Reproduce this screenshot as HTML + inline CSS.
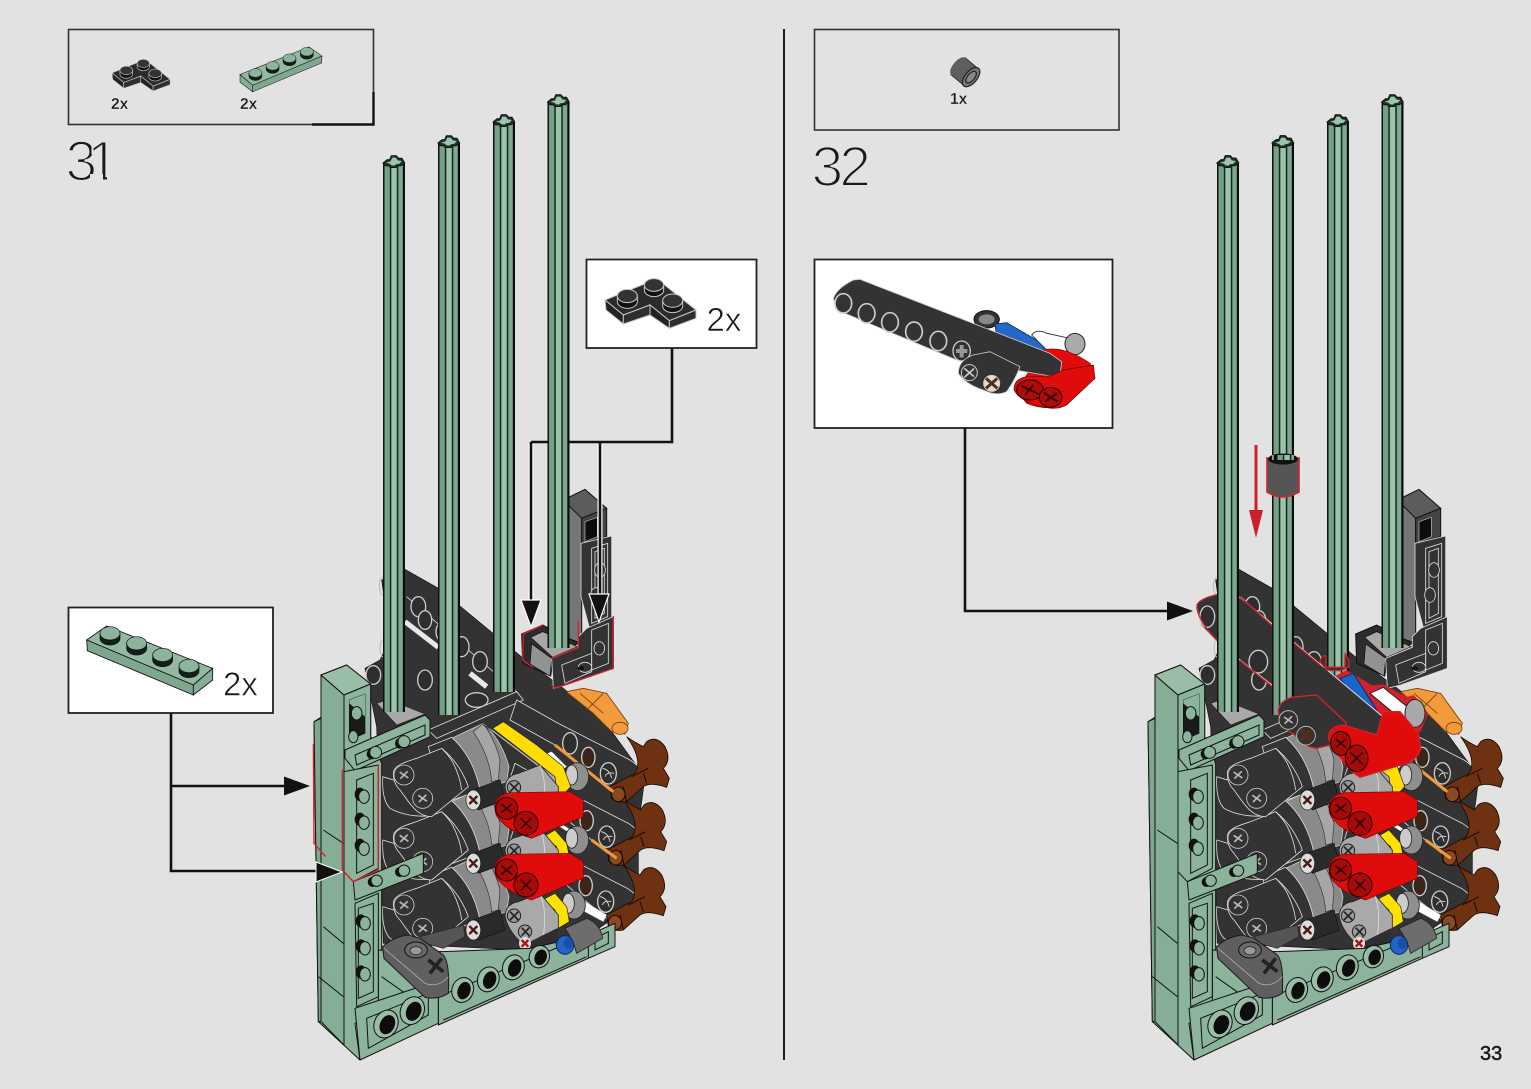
<!DOCTYPE html>
<html><head><meta charset="utf-8"><title>Steps 31-32</title>
<style>
html,body{margin:0;padding:0;background:#e2e2e2;width:1531px;height:1089px;overflow:hidden}
svg{display:block}
text{font-family:"Liberation Sans",sans-serif;fill:#1a1a1a}
.g{fill:#8cb39c;stroke:#111;stroke-width:3;stroke-linejoin:round}
.gl{fill:#9abda8;stroke:#111;stroke-width:3;stroke-linejoin:round}
.gd{fill:#7fa78f;stroke:#111;stroke-width:3;stroke-linejoin:round}
.in{fill:none;stroke:#111;stroke-width:3}
.d{fill:#333;stroke:#ddd;stroke-width:2.5;stroke-linejoin:round}
.dk{fill:#333;stroke:#111;stroke-width:2;stroke-linejoin:round}
.w{fill:none;stroke:#ddd;stroke-width:2.5}
.h{fill:#2e2e2e;stroke:#ccc;stroke-width:4}
.gh{fill:#2a3a33;stroke:#111;stroke-width:3}
.r{fill:#e00c0c;stroke:#7a0505;stroke-width:2;stroke-linejoin:round}
.rh{fill:#a80a0a;stroke:#200;stroke-width:3}
.o{fill:none;stroke:#d4202c;stroke-width:4;stroke-linejoin:round;stroke-linecap:round}
.ln{fill:none;stroke:#111;stroke-width:2.6}
.hl{fill:none;stroke:#fff;stroke-width:5}
</style></head>
<body>
<svg width="1531" height="1089" viewBox="0 0 1531 1089" xmlns="http://www.w3.org/2000/svg">
<defs>
<pattern id="st" patternUnits="userSpaceOnUse" width="22" height="40">
<rect width="22" height="40" fill="#8cb39c"/>
<rect width="1.6" height="40" fill="#111"/>
<rect x="1.6" width="5.2" height="40" fill="#74a085"/>
<rect x="6.8" width="1.6" height="40" fill="#0f2a1c"/>
<rect x="8.4" width="5.4" height="40" fill="#9cc2ab"/>
<rect x="13.8" width="1.6" height="40" fill="#0f2a1c"/>
<rect x="15.4" width="4.4" height="40" fill="#7fa890"/>
<rect x="19.8" width="2.2" height="40" fill="#0a0a0a"/>
</pattern>
<g id="cap">
<path d="M0,8 L4,4.7 L6.7,4.7 L8.3,.7 L13.3,.7 L15.7,3.3 L19,3.3 L21.7,8 L18,10.7 L15.3,10.7 L12.7,12.5 L7.3,12.5 L5.7,10.7 L2.3,10.7 Z" fill="#1d3228" stroke="#111" stroke-width="1"/>
<path d="M3,7.6 L7.5,6.4 L9.2,2.6 L12.8,2.6 L14.8,5.4 L18.8,6 L16.4,8.8 L13,9.2 L11.5,10.6 L8.4,10.2 L7,8.8 Z" fill="#9dc4ad"/>
</g>
<g id="r1"><rect y="8" width="22" height="549" fill="url(#st)"/><use href="#cap"/></g>
<g id="r2"><rect y="8" width="22" height="572" fill="url(#st)"/><use href="#cap"/></g>
<g id="r3"><rect y="8" width="22" height="570" fill="url(#st)"/><use href="#cap"/></g>
<g id="r4"><rect y="8" width="22" height="546" fill="url(#st)"/><use href="#cap"/></g>

<g id="xh"><path d="M-13,-9 L13,9 M-11,11 L11,-11" stroke="#bbb" stroke-width="5" fill="none"/></g>

<!-- back layer -->
<g id="mb">
 <polygon points="760,-180 815,-130 815,250 760,230" fill="#767676" stroke="#111" stroke-width="3"/>
 <polygon points="760,-180 825,-212 890,-155 815,-125" fill="#5c5c5c" stroke="#111" stroke-width="3"/>
 <polygon points="815,-125 890,-155 890,-70 815,-50" fill="#444" stroke="#111" stroke-width="3"/>
 <polygon points="825,-115 862,-128 862,-70 825,-55" fill="#0d0d0d" stroke="#bbb" stroke-width="2"/>
 <polygon points="813,-50 905,-72 905,200 840,210 813,110" class="d"/>
 <polygon points="845,-35 893,-50 893,170 845,190" class="w"/>
 <polygon points="855,-25 883,-35 883,160 855,175" class="w"/>
 <ellipse cx="870" cy="30" rx="16" ry="22" fill="#333" stroke="#ddd" stroke-width="2.5"/>
 <ellipse cx="858" cy="105" rx="16" ry="22" fill="#333" stroke="#ddd" stroke-width="2.5"/>
 <!-- dark mass -->
 <path d="M215,60 L285,28 L385,85 L640,295 L760,385 L880,480 L960,590 L1005,650 L985,800 L985,1000 L910,1075 L800,1150 L640,1170 L220,1150 L200,500 L165,325 L210,300 L240,240 Z" fill="#333" stroke="#111" stroke-width="2"/>
 <path d="M285,185 L385,262" stroke="#e8e8e8" stroke-width="15" fill="none"/>
 <path d="M480,340 L530,380" stroke="#e8e8e8" stroke-width="16" fill="none"/>
 <path d="M290,110 L625,400" class="w"/>
 <ellipse cx="218" cy="78" rx="10" ry="26" fill="none" stroke="#bbb" stroke-width="3"/>
 <ellipse cx="220" cy="265" rx="10" ry="26" fill="none" stroke="#bbb" stroke-width="3"/>
 <ellipse cx="190" cy="345" rx="22" ry="28" class="h"/>
 <ellipse cx="325" cy="140" rx="22" ry="30" class="h"/>
 <ellipse cx="345" cy="180" rx="20" ry="28" class="h"/>
 <ellipse cx="400" cy="215" rx="22" ry="30" class="h"/>
 <ellipse cx="455" cy="260" rx="22" ry="30" class="h"/>
 <ellipse cx="510" cy="305" rx="22" ry="30" class="h"/>
 <ellipse cx="345" cy="360" rx="22" ry="30" class="h"/>
 <!-- cross beam -->
 <path d="M355,510 L620,395 L640,420 L380,535 Z" fill="#333" stroke="#ddd" stroke-width="2.5"/>
 <ellipse cx="500" cy="420" rx="34" ry="22" class="h"/>
 <polygon points="200,430 235,418 345,462 260,495" fill="#a8a8a8" stroke="#222" stroke-width="2"/>
 <!-- brick -->
 <polygon points="635,222 698,195 805,250 730,290 722,348 638,310" fill="#2c2c2c" stroke="#111" stroke-width="3"/>
 <polygon points="665,252 725,295 720,348 660,312" fill="#929292" stroke="#111" stroke-width="2"/>
 <polygon points="662,232 698,215 802,260 728,292" fill="#a8a8a8" stroke="#111" stroke-width="2"/>
</g>

<!-- front layer -->
<g id="beam">
 <path d="M620,420 L745,490 L960,600 Q1005,630 1005,655 L985,690 L910,700 L735,555 L600,480 Z" class="d"/>
 <ellipse cx="780" cy="550" rx="22" ry="32" class="h"/>
 <ellipse cx="835" cy="592" rx="20" ry="30" fill="#3b2418" stroke="#ccc" stroke-width="4"/>
 <ellipse cx="895" cy="640" rx="24" ry="32" class="h"/>
 <path d="M878,625 Q900,630 905,655 M885,650 Q890,635 912,640" stroke="#ccc" stroke-width="3" fill="none"/>
</g>
<path id="brown" d="M950,530 Q970,545 1000,560 L1010,545 Q1040,525 1065,560 Q1085,600 1060,625 L1078,655 L1070,682 Q1020,665 1000,680 L950,725 Q920,730 905,715 L900,680 L975,640 Q1000,600 950,530Z" fill="#6e3213" stroke="#1a0a00" stroke-width="2.5"/>
<g id="brown2"><use href="#brown"/><path d="M940,680 L950,725 M1010,670 L1000,640 M965,650 L1015,625" stroke="#1a0a00" stroke-width="3" fill="none"/><ellipse cx="925" cy="703" rx="20" ry="22" fill="#8a4a20" stroke="#1a0a00" stroke-width="3"/></g>

<g id="row">
 <path d="M218,650 Q215,720 240,745 Q290,772 360,768 L350,690 Z" class="d"/>
 <path d="M425,535 L520,490 Q575,540 597,620 L590,665 L480,700 Z" fill="#8a8a8a" stroke="#ddd" stroke-width="2"/>
 <path d="M355,560 L425,532 Q490,590 510,690 L400,730 Z" fill="#333" stroke="#ddd" stroke-width="2.5"/>
 <path d="M520,490 Q555,540 570,600 L565,660 L545,665 Q540,590 490,515 Z" fill="#a6a6a6" stroke="#333" stroke-width="2"/>
 <path d="M250,640 C250,615 290,605 320,595 L395,565 Q450,610 475,680 L365,770 C320,770 300,730 270,690 C255,675 250,655 250,640 Z" class="d"/>
 <path d="M395,565 Q420,590 430,610 Q450,650 455,690" class="w"/>
 <circle cx="282" cy="645" r="30" fill="#333" stroke="#ccc" stroke-width="2.5"/><use href="#xh" transform="translate(282,645)"/>
 <circle cx="338" cy="715" r="30" fill="#333" stroke="#ccc" stroke-width="2.5"/><use href="#xh" transform="translate(338,715)"/>
 <path d="M475,695 L570,660 L585,720 L505,750 Z" fill="#2a2a2a" stroke="#111" stroke-width="2"/>
 <ellipse cx="490" cy="720" rx="22" ry="30" fill="#ddd" stroke="#222" stroke-width="2"/>
 <path d="M478,708 L502,732 M478,732 L502,708" stroke="#4a1a14" stroke-width="7" fill="none"/>
</g>
<g id="grey">
 <ellipse cx="802" cy="650" rx="34" ry="42" fill="#8f8f8f" stroke="#222" stroke-width="2.5"/>
 <ellipse cx="785" cy="645" rx="18" ry="30" fill="#ccc" stroke="#222" stroke-width="2.5"/>
</g>
<g id="arm">
 <path d="M585,680 Q590,645 625,640 L690,615 L745,680 L745,720 L680,765 Q650,780 630,760 Q590,720 585,680Z" fill="#a9a9a9" stroke="#222" stroke-width="2.5"/>
 <path d="M690,615 Q712,670 700,740" stroke="#ddd" stroke-width="2.5" fill="none"/>
 <circle cx="612" cy="682" r="20" fill="#9a9a9a" stroke="#222" stroke-width="3"/>
 <circle cx="645" cy="730" r="20" fill="#9a9a9a" stroke="#222" stroke-width="3"/>
 <path d="M600,670 L625,695 M635,718 L658,742 M600,695 L625,670 M635,742 L658,718" stroke="#222" stroke-width="5" fill="none"/>
</g>
<g id="red">
 <path d="M555,745 Q555,705 600,698 L780,695 L820,720 L820,770 L665,835 Q600,815 575,785 Q555,770 555,745Z" class="r"/>
 <circle cx="590" cy="745" r="33" class="rh"/>
 <circle cx="648" cy="790" r="36" class="rh"/>
 <path d="M574,732 L606,758 M574,758 L606,732 M632,774 L664,806 M632,806 L664,774" stroke="#300" stroke-width="5" fill="none"/>
</g>

<g id="mf">
 <use href="#beam" transform="translate(-8,385)"/>
 <use href="#brown2" transform="translate(-10,385)"/>
 <polygon points="800,1010 890,1065 880,1085 815,1050" fill="#fff" stroke="#ccc" stroke-width="1"/>
 <use href="#beam" transform="translate(-5,190)"/>
 <use href="#brown2" transform="translate(-8,190)"/>
 <path d="M845,840 L920,895" stroke="#f09a3c" stroke-width="9" fill="none"/>
 <path d="M750,795 L790,820" stroke="#fff" stroke-width="10" fill="none"/>
 <polygon points="770,395 820,385 890,400 955,490 945,522 905,515 850,460 775,400" fill="#f29a3c" stroke="#7a3e08" stroke-width="2.5"/>
 <path d="M810,400 L880,460 M880,400 L835,445" stroke="#7a3e08" stroke-width="2.5" fill="none"/>
 <ellipse cx="930" cy="505" rx="24" ry="18" fill="#f29a3c" stroke="#7a3e08" stroke-width="2.5"/>
 <use href="#beam"/>
 <use href="#brown2"/>
 <path d="M735,555 L910,695" stroke="#f09a3c" stroke-width="9" fill="none"/>
 <polygon points="700,585 725,575 770,620 755,630" fill="#fff"/>

 <use href="#row" transform="translate(0,390)"/>
 <use href="#grey" transform="translate(-10,385)"/>
 <polygon points="697,1020 735,1000 770,1040 778,1085 745,1105 735,1050" fill="#ffe100" stroke="#222" stroke-width="2"/>
 <use href="#arm" transform="translate(0,385)"/>
 <use href="#row" transform="translate(0,190)"/>
 <use href="#grey" transform="translate(0,190)"/>
 <polygon points="700,830 735,810 770,850 778,890 745,915 740,860" fill="#ffe100" stroke="#222" stroke-width="2"/>
 <use href="#arm" transform="translate(0,190)"/>
 <use href="#red" transform="translate(0,185)"/>
 <use href="#row"/>
 <use href="#grey"/>
 <polygon points="520,495 550,510 735,650 745,705 690,625" fill="#aaa" stroke="#222" stroke-width="2"/>
 <polygon points="548,505 580,485 680,555 760,620 782,680 745,720 735,650" fill="#ffdd00" stroke="#222" stroke-width="2"/>
 <use href="#arm"/>
 <use href="#red"/>

 <!-- lower items -->
 <path d="M640,1155 L740,1105 L745,1150 L665,1172 Z" fill="#2e2e2e"/>
 <ellipse cx="645" cy="1150" rx="18" ry="20" fill="#ddd"/>
 <path d="M635,1140 L655,1160 M635,1160 L655,1140" stroke="#b01010" stroke-width="7"/>
 <path d="M330,1130 L460,1095 L465,1130 L400,1165 L345,1150 Z" fill="#555" stroke="#222" stroke-width="2"/>

 <!-- green -->
 <path d="M12,485 L33,472 L33,345 L110,315 L182,372 L182,530 L215,610 L215,1345 L135,1390 L150,1500 L25,1385 Z" class="g"/>
 <polygon points="205,1170 400,1175 660,1165 835,1125 385,1330 205,1345" class="g"/>
 <polygon points="12,485 33,475 33,1385 25,1385" class="gd"/>
 <polygon points="33,345 102,405 102,1455 33,1385" fill="#86ad96" stroke="#111" stroke-width="3"/>
 <polygon points="33,345 110,315 182,372 102,405" class="gl"/>
 <polygon points="102,405 182,372 182,560 102,590" class="g"/>
 <polygon points="118,420 165,402 165,520 118,540" fill="#1a1a1a" stroke="#111" stroke-width="2"/>
 <polygon points="118,420 165,402 165,470 118,430" fill="#8cb39c"/>
 <ellipse cx="140" cy="460" rx="16" ry="20" fill="#8cb39c" stroke="#111" stroke-width="3"/>
 <ellipse cx="130" cy="530" rx="14" ry="18" fill="#8cb39c" stroke="#111" stroke-width="3"/>
 <path d="M40,810 L100,850 M40,1100 L100,1150 M25,1250 L100,1310" class="in"/>
 <!-- upper horizontal plate -->
 <polygon points="105,570 345,465 360,480 360,530 135,632 105,595" class="g"/>
 <polygon points="135,585 345,495 345,525 140,615" class="in"/>
 <ellipse cx="185" cy="582" rx="15" ry="16" fill="#111"/><ellipse cx="197" cy="577" rx="18" ry="18" class="g"/>
 <ellipse cx="270" cy="550" rx="15" ry="16" fill="#111"/><ellipse cx="282" cy="545" rx="18" ry="18" class="g"/>
 <!-- vertical plate -->
 <polygon points="102,635 205,615 205,925 130,965 102,935" class="g"/>
 <polygon points="140,660 190,640 190,915 140,940" class="in"/>
 <g fill="#111"><ellipse cx="150" cy="703" rx="16" ry="20"/><ellipse cx="150" cy="778" rx="16" ry="20"/><ellipse cx="150" cy="856" rx="16" ry="20"/></g>
 <ellipse cx="162" cy="710" rx="16" ry="20" class="g"/><ellipse cx="162" cy="788" rx="16" ry="20" class="g"/><ellipse cx="162" cy="866" rx="16" ry="20" class="g"/>
 <!-- lower horizontal plate -->
 <polygon points="130,965 340,880 340,940 135,1020" class="g"/>
 <ellipse cx="188" cy="966" rx="15" ry="15" fill="#111"/><ellipse cx="200" cy="962" rx="17" ry="17" class="g"/>
 <ellipse cx="270" cy="936" rx="15" ry="15" fill="#111"/><ellipse cx="282" cy="932" rx="17" ry="17" class="g"/>
 <!-- lower vertical -->
 <polygon points="135,1030 205,1000 205,1310 140,1340" class="g"/>
 <polygon points="145,1045 190,1030 190,1295 145,1315" class="in"/>
 <g fill="#111"><ellipse cx="153" cy="1083" rx="16" ry="20"/><ellipse cx="153" cy="1158" rx="16" ry="20"/><ellipse cx="153" cy="1236" rx="16" ry="20"/></g>
 <ellipse cx="165" cy="1090" rx="16" ry="20" class="g"/><ellipse cx="165" cy="1165" rx="16" ry="20" class="g"/><ellipse cx="165" cy="1243" rx="16" ry="20" class="g"/>
 <!-- base right -->
 <polygon points="385,1310 835,1125 915,1090 915,1160 835,1195 385,1395" class="g"/>
 <polyline points="400,1380 830,1190" class="in"/>
 <polyline points="835,1125 835,1195" class="in"/>
 <polygon points="855,1135 895,1115 895,1150 855,1170" class="in"/>
 <polyline points="215,1250 300,1310" class="in"/>
 <g>
  <ellipse cx="458" cy="1290" rx="32" ry="38" class="gl" transform="rotate(20 458 1290)"/><ellipse cx="462" cy="1292" rx="19" ry="27" fill="#0d0d0d" transform="rotate(20 462 1292)"/>
  <ellipse cx="535" cy="1258" rx="32" ry="38" class="gl" transform="rotate(20 535 1258)"/><ellipse cx="539" cy="1260" rx="19" ry="27" fill="#0d0d0d" transform="rotate(20 539 1260)"/>
  <ellipse cx="610" cy="1222" rx="32" ry="38" class="gl" transform="rotate(20 610 1222)"/><ellipse cx="614" cy="1224" rx="19" ry="27" fill="#0d0d0d" transform="rotate(20 614 1224)"/>
  <ellipse cx="688" cy="1190" rx="30" ry="34" class="gl" transform="rotate(20 688 1190)"/><ellipse cx="692" cy="1192" rx="18" ry="24" fill="#0d0d0d" transform="rotate(20 692 1192)"/>
 </g>
 <!-- base left -->
 <polygon points="135,1345 345,1275 385,1300 385,1390 150,1500" class="g"/>
 <polygon points="170,1375 355,1300 355,1365 175,1465" class="in"/>
 <ellipse cx="228" cy="1392" rx="35" ry="43" class="gl" transform="rotate(25 228 1392)"/><ellipse cx="232" cy="1394" rx="22" ry="30" fill="#0d0d0d" transform="rotate(25 232 1394)"/>
 <ellipse cx="307" cy="1352" rx="35" ry="43" class="gl" transform="rotate(25 307 1352)"/><ellipse cx="311" cy="1354" rx="22" ry="30" fill="#0d0d0d" transform="rotate(25 311 1354)"/>
 <!-- bottom items on base -->
 <path d="M765,1105 L830,1075 Q870,1090 878,1135 L800,1180 Q790,1140 765,1105Z" fill="#6d6d6d" stroke="#222" stroke-width="2.5"/>
 <ellipse cx="765" cy="1155" rx="26" ry="28" fill="#2464c8" stroke="#0b2a60" stroke-width="3"/>
 <ellipse cx="775" cy="1150" rx="14" ry="16" fill="#1a4fa8"/>
 <path d="M218,1160 Q250,1130 295,1125 L330,1135 L400,1185 Q420,1210 415,1300 Q385,1320 345,1312 L222,1195 Z" fill="#5f5f5f" stroke="#1a1a1a" stroke-width="3"/>
 <path d="M222,1165 L345,1270 Q385,1285 415,1250" stroke="#aaa" stroke-width="2.5" fill="none"/>
 <ellipse cx="318" cy="1170" rx="34" ry="24" fill="#6a6a6a" stroke="#111" stroke-width="3"/>
 <ellipse cx="318" cy="1172" rx="18" ry="12" fill="#999" stroke="#111" stroke-width="2"/>
 <path d="M355,1200 L400,1235 M395,1195 L360,1240" stroke="#222" stroke-width="11"/>
 <!-- L plate -->
 <polygon points="805,230 830,205 910,170 910,325 770,375 730,385 725,295 805,262" class="d"/>
 <polygon points="845,210 895,190 895,310 845,330" class="w"/>
 <polygon points="755,315 845,280 845,335 765,370" class="w"/>
 <ellipse cx="868" cy="265" rx="16" ry="20" fill="#333" stroke="#ddd" stroke-width="2.5"/>
 <ellipse cx="825" cy="322" rx="20" ry="15" fill="#333" stroke="#ddd" stroke-width="2.5"/>
 <ellipse cx="812" cy="325" rx="10" ry="6" fill="#0d0d0d"/>
</g>

<g id="scene">
 <use href="#mb" transform="translate(310,560) scale(.33333)"/>
 <use href="#r4" transform="translate(547.5,94)"/>
 <use href="#r1" transform="translate(383,155)"/>
 <use href="#r2" transform="translate(438,135)"/>
 <use href="#r3" transform="translate(493,114)"/>
 <use href="#mf" transform="translate(310,560) scale(.33333)"/>
</g>

<g id="corner">
 <polygon points="285,150 420,95 445,90 558,180 478,212 420,165 340,195" fill="#2b2b2b" stroke="#c8c8c8" stroke-width="3"/>
 <polygon points="285,150 340,195 340,222 288,180" fill="#222" stroke="#c8c8c8" stroke-width="3"/>
 <polygon points="340,195 420,165 420,195 340,222" fill="#2e2e2e" stroke="#c8c8c8" stroke-width="3"/>
 <polygon points="420,165 478,212 478,235 420,195" fill="#222" stroke="#c8c8c8" stroke-width="3"/>
 <polygon points="478,212 558,180 558,205 478,235" fill="#2e2e2e" stroke="#c8c8c8" stroke-width="3"/>
 <g fill="#111" stroke="#c8c8c8" stroke-width="3">
  <path d="M322,140 L322,155 A30,20 0 0 0 382,155 L382,140 Z"/><ellipse cx="352" cy="138" rx="30" ry="20" fill="#333"/>
  <path d="M403,105 L403,120 A29,20 0 0 0 461,120 L461,105 Z"/><ellipse cx="432" cy="105" rx="29" ry="19" fill="#333"/>
  <path d="M458,153 L458,168 A30,20 0 0 0 518,168 L518,153 Z"/><ellipse cx="488" cy="152" rx="30" ry="20" fill="#333"/>
 </g>
</g>
<g id="plate">
 <polygon points="80,120 140,78 458,205 400,255" fill="#93b9a3" stroke="#111" stroke-width="2.5"/>
 <polygon points="80,120 400,255 400,285 82,152" fill="#7fa78f" stroke="#111" stroke-width="2.5"/>
 <polygon points="400,255 458,205 458,240 400,285" fill="#86ad96" stroke="#111" stroke-width="2.5"/>
 <g fill="#10201a" stroke="#111" stroke-width="2">
  <path d="M120,100 L120,115 A30,20 0 0 0 180,115 L180,100 Z"/><ellipse cx="150" cy="100" rx="30" ry="20" fill="#8cb39c"/>
  <path d="M200,130 L200,145 A30,20 0 0 0 260,145 L260,130 Z"/><ellipse cx="230" cy="130" rx="30" ry="20" fill="#8cb39c"/>
  <path d="M278,165 L278,180 A30,20 0 0 0 338,180 L338,165 Z"/><ellipse cx="308" cy="165" rx="30" ry="20" fill="#8cb39c"/>
  <path d="M357,198 L357,213 A30,20 0 0 0 417,213 L417,198 Z"/><ellipse cx="387" cy="198" rx="30" ry="20" fill="#8cb39c"/>
 </g>
</g>
</defs>

<rect width="1531" height="1089" fill="#e2e2e2"/>

<!-- divider -->
<line x1="784" y1="29" x2="784" y2="1060" stroke="#1c1c1c" stroke-width="2"/>

<!-- parts boxes -->
<rect x="68.5" y="29.5" width="305" height="95" fill="none" stroke="#333" stroke-width="1.6"/>
<path d="M312,124.5 H373.5 V92" fill="none" stroke="#111" stroke-width="2.4"/>
<use href="#corner" transform="translate(51.3,41) scale(.213)"/>
<use href="#plate" transform="translate(339.4,30) scale(-.217,.217)"/>
<text x="111" y="109" font-size="15.5" font-weight="700" stroke="#e2e2e2" stroke-width=".25">2x</text>
<text x="240" y="109" font-size="15.5" font-weight="700" stroke="#e2e2e2" stroke-width=".25">2x</text>

<rect x="814.5" y="29.5" width="304.5" height="100.5" fill="none" stroke="#333" stroke-width="1.6"/>
<g transform="translate(965,72) rotate(40)">
 <rect x="-9" y="-11" width="17" height="22" fill="#5e5e5e" stroke="#333" stroke-width="1"/>
 <ellipse cx="-9" cy="0" rx="5" ry="11" fill="#5e5e5e"/>
 <ellipse cx="8" cy="0" rx="6" ry="11.5" fill="#777" stroke="#222" stroke-width="1.2"/>
 <ellipse cx="8" cy="0" rx="3.5" ry="7" fill="#888" stroke="#222" stroke-width="1.2"/>
</g>
<text x="950" y="104" font-size="15.5" font-weight="700" stroke="#e2e2e2" stroke-width=".25">1x</text>

<!-- step numbers -->
<text x="65.5" y="180.5" font-size="57" stroke="#e2e2e2" stroke-width="2">3<tspan x="87">1</tspan></text>
<rect x="90" y="174" width="13" height="8" fill="#e2e2e2"/>
<rect x="107" y="174" width="16" height="8" fill="#e2e2e2"/>
<text x="811.5" y="186" font-size="57" letter-spacing="-4" stroke="#e2e2e2" stroke-width="2">32</text>

<!-- connector behind rods -->
<path d="M672,348 V442 H531" class="ln"/>

<!-- models -->
<use href="#scene"/>
<use href="#scene" transform="translate(834,0)"/>

<!-- step 31 connectors -->
<path d="M531,444 V602 M600,444 V596" class="hl"/>
<path d="M531,442 V602 M600,442 V596" class="ln"/>
<polygon points="531,627 521,600 541,600" fill="#111" stroke="#fff" stroke-width="1.2"/>
<polygon points="599,622 589,594 609,594" fill="#111" stroke="#fff" stroke-width="1.2"/>
<path d="M171,713 V871 H320 M171,786 H287" class="ln"/>
<polygon points="310,786 284,776.5 284,795.5" fill="#111"/>
<polygon points="342,872 316,862 316,882" fill="#111" stroke="#fff" stroke-width="1"/>

<!-- step 31 red highlights -->
<g transform="translate(310,560) scale(.33333)">
 <path d="M10,553 L12,850 L45,888" class="o"/>
 <path d="M97,630 L97,930 L130,965 L205,930 L205,615" class="o"/>
 <path d="M698,195 L640,222 L638,300 L668,322" class="o"/>
 <path d="M725,295 L805,262 L805,185" class="o"/>
 <path d="M910,170 L910,325 L735,385 L725,375" class="o"/>
</g>

<!-- callouts -->
<rect x="586.5" y="259.5" width="170" height="88.5" fill="#fff" stroke="#222" stroke-width="1.8"/>
<use href="#corner" transform="translate(510,250) scale(.33333)"/>
<text x="706.5" y="331" font-size="33" stroke="#fff" stroke-width=".6">2x</text>

<rect x="68.5" y="607.5" width="204.5" height="105.5" fill="#fff" stroke="#222" stroke-width="1.8"/>
<use href="#plate" transform="translate(60,600) scale(.33333)"/>
<text x="223" y="695.5" font-size="33" stroke="#fff" stroke-width=".6">2x</text>

<rect x="814.5" y="259.5" width="298" height="168.5" fill="#fff" stroke="#222" stroke-width="1.8"/>
<g transform="translate(810,250) scale(.33333)">
 <ellipse cx="530" cy="208" rx="38" ry="26" fill="#333" stroke="#111" stroke-width="3"/>
 <ellipse cx="530" cy="208" rx="24" ry="15" fill="#888"/>
 <path d="M555,222 L590,218 L705,285 L695,325 L560,262 Z" fill="#2468c8" stroke="#0b2a60" stroke-width="2.5"/>
 <path d="M665,255 Q680,235 710,250 L780,265 L800,300 L720,310 Z" fill="#fff" stroke="#222" stroke-width="2.5"/>
 <ellipse cx="795" cy="282" rx="30" ry="32" fill="#aaa" stroke="#222" stroke-width="3"/>
 <path d="M620,420 L700,300 Q760,285 840,340 L855,385 L750,470 Q700,480 650,460 Z" fill="#e00c0c" stroke="#700" stroke-width="2"/>
 <path d="M70,145 Q80,115 130,90 L150,88 L720,310 L755,335 L750,375 L720,378 L440,330 L100,188 Q75,170 70,145Z" fill="#333" stroke="#ccc" stroke-width="2.5"/>
 <g fill="#333" stroke="#ccc" stroke-width="5">
  <ellipse cx="100" cy="160" rx="25" ry="29"/><ellipse cx="170" cy="190" rx="25" ry="29"/><ellipse cx="240" cy="217" rx="25" ry="29"/><ellipse cx="312" cy="245" rx="25" ry="29"/><ellipse cx="385" cy="273" rx="25" ry="29"/>
 </g>
 <ellipse cx="455" cy="303" rx="26" ry="30" fill="#333" stroke="#ccc" stroke-width="4"/>
 <path d="M438,303 H472 M455,285 V322" stroke="#999" stroke-width="12"/>
 <path d="M445,370 Q445,330 490,315 L540,305 L630,350 Q615,390 590,425 Q560,440 520,420 Q470,405 445,370Z" fill="#333" stroke="#ccc" stroke-width="2.5"/>
 <circle cx="478" cy="368" r="24" fill="#333" stroke="#ccc" stroke-width="3"/>
 <path d="M463,355 L492,380 M463,382 L492,356" stroke="#ccc" stroke-width="5"/>
 <circle cx="545" cy="400" r="24" fill="#ddd" stroke="#ccc" stroke-width="3"/>
 <path d="M528,385 L562,415 M528,415 L562,385" stroke="#5a2e14" stroke-width="9"/>
 <path d="M612,420 Q612,385 650,380 L720,378 L760,360 L850,345 L855,385 L770,465 Q740,482 700,470 Q630,455 612,420Z" fill="#e00c0c" stroke="#700" stroke-width="2"/>
 <ellipse cx="660" cy="420" rx="40" ry="30" fill="#b00a0a" stroke="#200" stroke-width="3"/>
 <ellipse cx="722" cy="442" rx="34" ry="30" fill="#b00a0a" stroke="#200" stroke-width="3"/>
 <path d="M635,408 L685,432 M645,435 L670,405 M702,428 L742,455 M705,455 L740,430" stroke="#300" stroke-width="6"/>
</g>

<!-- step 32 additions -->
<g transform="translate(1180,580) scale(.33333)">
 <path d="M470,290 L500,275 L575,320 L610,318 L680,355 L700,350 L740,400 L720,450 L640,470 L500,340 Z" fill="#d4202c" stroke="#d4202c" stroke-width="8"/>
 <path d="M480,295 L520,280 L590,390 L560,400 Z" fill="#1a66c8" stroke="#0b2a60" stroke-width="3"/>
 <path d="M570,340 L610,322 L700,395 L690,440 Z" fill="#fff" stroke="#222" stroke-width="3"/>
 <ellipse cx="705" cy="400" rx="30" ry="42" fill="#a8a8a8" stroke="#222" stroke-width="3"/>
 <path d="M50,78 Q55,55 120,42 L180,52 L340,185 L620,420 L612,470 L500,450 L340,365 L180,240 L110,185 L62,135 Z" fill="#333" stroke="#ddd" stroke-width="3"/>
 <ellipse cx="82" cy="110" rx="22" ry="32" class="h"/>
 <ellipse cx="235" cy="245" rx="28" ry="34" class="h"/>
 <path d="M180,50 L280,140 M340,188 L420,255 M180,242 L280,322" fill="none" stroke="#d4202c" stroke-width="4"/>
 <path d="M50,78 Q55,55 120,42 M50,80 Q55,125 115,185" fill="none" stroke="#d4202c" stroke-width="4"/>
</g>
<use href="#r1" transform="translate(1217,155)"/>
<use href="#r2" transform="translate(1272,135)"/>
<g transform="translate(1180,580) scale(.33333)">
 <path d="M420,245 Q425,225 438,228 L438,262 L495,262 L495,222 Q512,240 505,262 L480,272 L440,270 Z" fill="#333" stroke="#d4202c" stroke-width="4"/>
 <path d="M295,395 Q295,365 335,352 L410,345 L500,430 L450,495 L410,505 Q370,500 345,465 Q300,440 295,395Z" fill="#333" stroke="#d4202c" stroke-width="4"/>
 <circle cx="325" cy="420" r="28" fill="#333" stroke="#ccc" stroke-width="2.5"/><use href="#xh" transform="translate(325,420)"/>
 <circle cx="378" cy="467" r="28" fill="#333" stroke="#ccc" stroke-width="2.5"/>
 <path d="M362,450 L394,482 M362,482 L394,450" stroke="#5a2e14" stroke-width="8"/>
 <path d="M445,475 Q445,440 490,435 L590,465 L610,395 L660,395 L715,460 L722,505 Q715,535 680,550 L540,592 Q490,560 445,475Z" fill="#e00c0c" stroke="#d4202c" stroke-width="4"/>
 <ellipse cx="482" cy="490" rx="30" ry="36" class="rh"/>
 <ellipse cx="530" cy="535" rx="34" ry="40" class="rh"/>
 <path d="M467,477 L498,503 M467,503 L498,477 M512,517 L548,553 M512,553 L548,517" stroke="#300" stroke-width="5" fill="none"/>
</g>
<!-- ring on rod -->
<g>
 <path d="M1267,458 L1267,492 Q1283,502 1299,492 L1299,458 Q1283,466 1267,458Z" fill="#555" stroke="#d4202c" stroke-width="1.6"/>
 <ellipse cx="1283" cy="459" rx="15" ry="5.5" fill="#111"/>
 <rect x="1272" y="455" width="22" height="5" fill="url(#st)"/>
</g>
<!-- red arrow -->
<line x1="1256" y1="445" x2="1256" y2="514" stroke="#c9202e" stroke-width="3"/>
<polygon points="1256,538 1249,510 1263,510" fill="#c9202e"/>
<!-- 32 connector -->
<path d="M965,428 V611 H1170" class="ln"/>
<polygon points="1193,611 1167,601.5 1167,620.5" fill="#111"/>

<text x="1480" y="1060" font-size="20" font-weight="400" stroke="#1a1a1a" stroke-width=".5">33</text>
</svg>
</body></html>
